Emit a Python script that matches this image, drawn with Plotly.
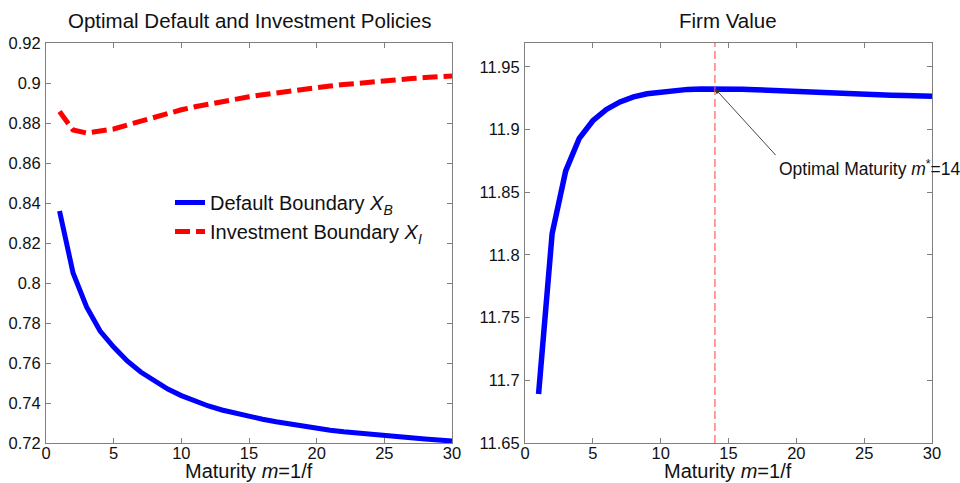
import plotly.graph_objects as go

# ---------------- data ----------------
maturity = list(range(1, 31))

default_boundary = [0.836, 0.805, 0.788, 0.776, 0.768, 0.761, 0.7555, 0.751, 0.747, 0.7437,
                    0.7408, 0.7385, 0.7365, 0.7348, 0.7333, 0.7319, 0.7306, 0.7294, 0.7283, 0.7273,
                    0.7264, 0.7256, 0.7249, 0.7242, 0.7236, 0.7230, 0.7225, 0.7220, 0.7215, 0.7210]

investment_boundary = [0.8857, 0.8765, 0.8750, 0.8758, 0.8770, 0.8790, 0.8810, 0.8830, 0.8850, 0.8866,
                       0.8881, 0.8895, 0.8908, 0.8920, 0.8931, 0.8941, 0.8951, 0.8960, 0.8969, 0.8977,
                       0.8985, 0.8992, 0.8999, 0.9005, 0.9011, 0.9017, 0.9022, 0.9027, 0.9031, 0.9035]

firm_value = [11.689, 11.817, 11.867, 11.893, 11.907, 11.916, 11.922, 11.926, 11.9285, 11.930,
              11.9313, 11.932, 11.9324, 11.9327, 11.9326, 11.9322, 11.9317, 11.9312, 11.9306, 11.930,
              11.9296, 11.9292, 11.9288, 11.9284, 11.928, 11.9277, 11.9274, 11.9271, 11.9268, 11.9265]

optimal_maturity = 14

x_ticks = [0, 5, 10, 15, 20, 25, 30]
left_y_ticks = [0.72, 0.74, 0.76, 0.78, 0.80, 0.82, 0.84, 0.86, 0.88, 0.90, 0.92]
left_y_labels = ["0.72", "0.74", "0.76", "0.78", "0.8", "0.82", "0.84", "0.86", "0.88", "0.9", "0.92"]
right_y_ticks = [11.65, 11.70, 11.75, 11.80, 11.85, 11.90, 11.95]
right_y_labels = ["11.65", "11.7", "11.75", "11.8", "11.85", "11.9", "11.95"]

# ---------------- figure ----------------
FONT = "Liberation Sans, Arial, sans-serif"
W, H = 960, 483

fig = go.Figure()

fig.add_trace(go.Scatter(
    x=maturity, y=default_boundary, mode="lines",
    line=dict(color="#0000FF", width=5),
    name="Default Boundary <i>X</i><sub><i>B</i></sub>",
    xaxis="x", yaxis="y"))
fig.add_trace(go.Scatter(
    x=maturity, y=investment_boundary, mode="lines",
    line=dict(color="#FF0000", width=5, dash="15px,6px"),
    name="Investment Boundary <i>X</i><sub><i>I</i></sub>",
    xaxis="x", yaxis="y"))
fig.add_trace(go.Scatter(
    x=maturity, y=firm_value, mode="lines",
    line=dict(color="#0000FF", width=5.5),
    showlegend=False, xaxis="x2", yaxis="y2"))

axis_common = dict(
    showgrid=False, zeroline=False, showline=True, mirror="ticks",
    linecolor="#7f7f7f", linewidth=1.2,
    ticks="inside", ticklen=5, tickcolor="#7f7f7f",
    tickfont=dict(family=FONT, size=16.5, color="#111"),
    automargin=False,
)

left_x0, left_x1 = 46 / W, 452 / W
right_x0, right_x1 = 525 / W, 932 / W
y0, y1 = 1 - 443 / H, 1 - 43 / H

fig.update_layout(
    width=W, height=H,
    margin=dict(l=0, r=0, t=0, b=0, autoexpand=False),
    paper_bgcolor="white", plot_bgcolor="white",
    font=dict(family=FONT, color="#111"),
    xaxis=dict(domain=[left_x0, left_x1], range=[0, 30], tickvals=x_ticks,
               anchor="y", ticklabelstandoff=-5, **axis_common),
    yaxis=dict(domain=[y0, y1], range=[0.72, 0.92], tickvals=left_y_ticks,
               ticktext=left_y_labels, anchor="x", ticklabelstandoff=1, **axis_common),
    xaxis2=dict(domain=[right_x0, right_x1], range=[0, 30], tickvals=x_ticks,
                anchor="y2", ticklabelstandoff=-5, **axis_common),
    yaxis2=dict(domain=[y0, y1], range=[11.65, 11.969], tickvals=right_y_ticks,
                ticktext=right_y_labels, anchor="x2", ticklabelstandoff=1, **axis_common),
    legend=dict(x=170 / W, y=1 - 183 / H, xanchor="left", yanchor="top",
                bgcolor="rgba(0,0,0,0)", borderwidth=0,
                font=dict(family=FONT, size=20, color="#111"),
                tracegroupgap=0),
    showlegend=True,
)

# optimal maturity vertical line
fig.add_shape(type="line", xref="x2", yref="y2 domain",
              x0=optimal_maturity, x1=optimal_maturity, y0=0, y1=1,
              line=dict(color="#FF6060", width=1.2, dash="8px,4px"))

peak_value = firm_value[maturity.index(optimal_maturity)]

# arrow
fig.add_annotation(xref="x2", yref="y2", x=optimal_maturity, y=peak_value,
                   text="", showarrow=True, ax=62, ay=68,
                   arrowhead=2, arrowsize=1.2, arrowwidth=0.9, arrowcolor="#333",
                   standoff=0)
# arrow label
fig.add_annotation(xref="paper", yref="paper", x=777 / W, y=1 - 168 / H,
                   xanchor="left", yanchor="middle", showarrow=False,
                   text="Optimal Maturity <i>m</i><sup>*</sup>=14",
                   font=dict(family=FONT, size=17.5, color="#111"))

# titles
fig.add_annotation(xref="paper", yref="paper", x=249 / W, y=1 - 20 / H,
                   xanchor="center", yanchor="middle", showarrow=False,
                   text="Optimal Default and Investment Policies",
                   font=dict(family=FONT, size=20.5, color="#111"))
fig.add_annotation(xref="paper", yref="paper", x=728 / W, y=1 - 20 / H,
                   xanchor="center", yanchor="middle", showarrow=False,
                   text="Firm Value",
                   font=dict(family=FONT, size=20.5, color="#111"))
for cx in (249, 728):
    fig.add_annotation(xref="paper", yref="paper", x=cx / W, y=0,
                       xanchor="center", yanchor="bottom", showarrow=False,
                       text="Maturity <i>m</i>=1/f", borderpad=0,
                       font=dict(family=FONT, size=20, color="#111"))

fig.write_html(
    "out.html",
    config={"displayModeBar": False},
    post_script="document.body.style.margin='0';document.body.style.overflow='hidden';",
)
